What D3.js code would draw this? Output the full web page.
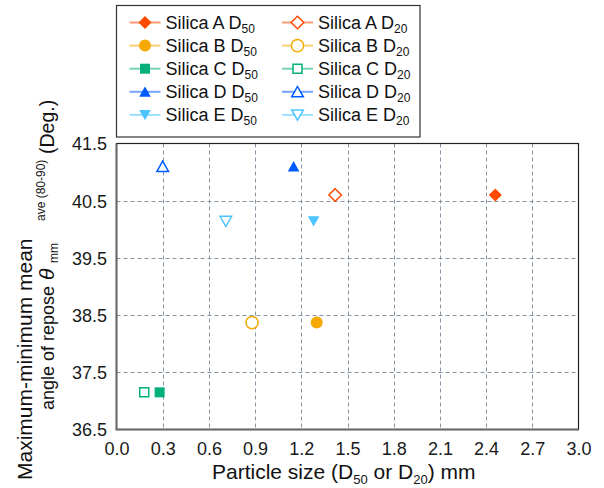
<!DOCTYPE html>
<html><head><meta charset="utf-8">
<script src="https://cdn.jsdelivr.net/npm/d3@7"></script>
<style>body{margin:0;background:#fff} svg{display:block;font-family:"Liberation Sans",Arial,Helvetica,sans-serif}</style>
</head><body><svg id="c" width="604" height="488"></svg>
<script>
// ---- data ----
const silicas = ["Silica A", "Silica B", "Silica C", "Silica D", "Silica E"];
const colors = ["#FF4B00", "#F6AA00", "#03AF7A", "#005AFF", "#4DC4FF"];
const shapes = ["diamond", "circle", "square", "triangle", "triangleDown"];
const sizeD50 = [2.46, 1.30, 0.28, 1.15, 1.28];
const sizeD20 = [1.42, 0.88, 0.18, 0.30, 0.71];
const angleMean = [40.60, 38.37, 37.15, 41.10, 40.14];
const xTicks = [0.0, 0.3, 0.6, 0.9, 1.2, 1.5, 1.8, 2.1, 2.4, 2.7, 3.0];
const yTicks = [36.5, 37.5, 38.5, 39.5, 40.5, 41.5];

const svg = d3.select("#c");
const L = 116.5, R = 578.5, T = 143.5, B = 429.5;
const x = d3.scaleLinear().domain([0, 3]).range([L, R]);
const y = d3.scaleLinear().domain([36.5, 41.5]).range([B, T]);

function markerPath(shape) {
  switch (shape) {
    case "diamond": return "M0,-6.5L6.5,0L0,6.5L-6.5,0Z";
    case "circle": return d3.symbol(d3.symbolCircle, Math.PI * 36)();
    case "square": return d3.symbol(d3.symbolSquare, 100)();
    case "triangle": return "M0,-5.3L5.8,5L-5.8,5Z";
    case "triangleDown": return "M-5.8,-5L5.8,-5L0,5.3Z";
  }
}
function hollowPath(shape) {
  switch (shape) {
    case "diamond": return "M0,-6.3L6.3,0L0,6.3L-6.3,0Z";
    case "circle": return d3.symbol(d3.symbolCircle, Math.PI * 6.1 * 6.1)();
    case "square": return d3.symbol(d3.symbolSquare, 81)();
    case "triangle": return "M0,-5.3L5.8,5L-5.8,5Z";
    case "triangleDown": return "M-5.8,-5L5.8,-5L0,5.3Z";
  }
}

// ---- grid ----
const grid = svg.append("g").attr("stroke", "#8794a2").attr("stroke-width", 1).attr("stroke-dasharray", "4,3");
grid.selectAll("line.v").data(xTicks.slice(1, -1)).enter().append("line")
  .attr("x1", d => Math.round(x(d)) + 0.5).attr("x2", d => Math.round(x(d)) + 0.5)
  .attr("y1", T).attr("y2", B);
grid.selectAll("line.h").data(yTicks.slice(1, -1)).enter().append("line")
  .attr("y1", d => Math.round(y(d)) + 0.5).attr("y2", d => Math.round(y(d)) + 0.5)
  .attr("x1", L).attr("x2", R);

// ---- frame ----
svg.append("rect").attr("x", L).attr("y", T).attr("width", R - L).attr("height", B - T)
  .attr("fill", "none").attr("stroke", "#222").attr("stroke-width", 1.2);
svg.append("path").attr("d", `M${L},${T}V${B}H${R}`).attr("fill", "none")
  .attr("stroke", "#6b6b6b").attr("stroke-width", 2);

// ---- axes (labels only) ----
const xAxis = d3.axisBottom(x).tickValues(xTicks).tickFormat(d3.format(".1f")).tickSize(0).tickPadding(0);
const gx = svg.append("g").attr("transform", `translate(0,${B})`).call(xAxis);
gx.select(".domain").remove();
gx.selectAll("text").attr("font-size", 18).attr("fill", "#1a1a1a")
  .attr("font-family", "'Liberation Sans',Arial,sans-serif").attr("dy", null).attr("y", 25.5);

const yAxis = d3.axisLeft(y).tickValues(yTicks).tickFormat(d3.format(".1f")).tickSize(0).tickPadding(0);
const gy = svg.append("g").attr("transform", `translate(${L},0)`).call(yAxis);
gy.select(".domain").remove();
gy.selectAll("text").attr("font-size", 18).attr("fill", "#1a1a1a")
  .attr("font-family", "'Liberation Sans',Arial,sans-serif").attr("x", -9.5).attr("dy", "0.36em");

// ---- data points ----
const pts = [];
silicas.forEach((s, i) => {
  pts.push({ v: sizeD50[i], a: angleMean[i], c: colors[i], shape: shapes[i], filled: true });
  pts.push({ v: sizeD20[i], a: angleMean[i], c: colors[i], shape: shapes[i], filled: false });
});
svg.append("g").selectAll("path").data(pts).enter().append("path")
  .attr("transform", d => `translate(${x(d.v)},${y(d.a)})`)
  .attr("d", d => d.filled ? markerPath(d.shape) : hollowPath(d.shape))
  .attr("fill", d => d.filled ? d.c : "#fff")
  .attr("stroke", d => d.filled ? "none" : d.c)
  .attr("stroke-width", 1.5);

// ---- legend ----
const lg = svg.append("g");
lg.append("rect").attr("x", 116.5).attr("y", 5.5).attr("width", 303.5).attr("height", 131.5)
  .attr("fill", "#fff").attr("stroke", "#333").attr("stroke-width", 1.2);
const colX = [129.5, 282];
const rowY = d3.range(5).map(i => 22.5 + i * 23.1);
const entries = [];
silicas.forEach((s, i) => {
  entries.push({ col: 0, row: i, label: s + " D", sub: "50", c: colors[i], shape: shapes[i], filled: true });
  entries.push({ col: 1, row: i, label: s + " D", sub: "20", c: colors[i], shape: shapes[i], filled: false });
});
const le = lg.selectAll("g.e").data(entries).enter().append("g")
  .attr("transform", d => `translate(${colX[d.col]},${rowY[d.row]})`);
le.append("line").attr("x1", 0).attr("x2", 31).attr("stroke", d => d.c)
  .attr("stroke-width", 2).attr("stroke-opacity", 0.55);
le.append("path").attr("transform", "translate(15.5,0)")
  .attr("d", d => d.filled ? markerPath(d.shape) : hollowPath(d.shape))
  .attr("fill", d => d.filled ? d.c : "#fff")
  .attr("stroke", d => d.filled ? "none" : d.c).attr("stroke-width", 1.5);
const lt = le.append("text").attr("x", 36).attr("y", 6.5).attr("font-size", 18).attr("fill", "#111");
lt.append("tspan").text(d => d.label);
lt.append("tspan").attr("font-size", 12).attr("dy", 4).text(d => d.sub);

// ---- axis titles ----
const xt = svg.append("text").attr("x", 212).attr("y", 479).attr("font-size", 21).attr("fill", "#111");
xt.append("tspan").text("Particle size (D");
xt.append("tspan").attr("font-size", 13).attr("dy", 5).text("50");
xt.append("tspan").attr("dy", -5).text(" or D");
xt.append("tspan").attr("font-size", 13).attr("dy", 5).text("20");
xt.append("tspan").attr("dy", -5).text(") mm");

const yParts = [
  { t: "Maximum-minimum mean", bx: 32, sy: 480, fs: 21, it: false },
  { t: "angle of repose", bx: 54, sy: 410, fs: 18, it: false },
  { t: "θ", bx: 54, sy: 280, fs: 21, it: true },
  { t: "mm", bx: 58, sy: 263, fs: 12, it: false },
  { t: "ave (80-90)", bx: 45, sy: 221, fs: 12, it: false },
  { t: "(Deg.)", bx: 54, sy: 154, fs: 19.5, it: false }
];
svg.append("g").selectAll("text").data(yParts).enter().append("text")
  .attr("transform", d => `translate(${d.bx},${d.sy}) rotate(-90)`)
  .attr("font-size", d => d.fs).attr("font-style", d => d.it ? "italic" : "normal")
  .attr("fill", "#111").text(d => d.t);
</script></body></html>
